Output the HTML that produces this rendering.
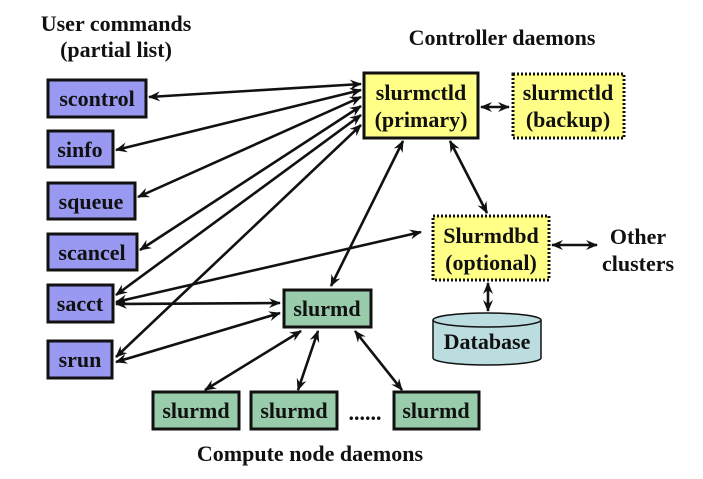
<!DOCTYPE html>
<html><head><meta charset="utf-8"><style>
html,body{margin:0;padding:0;background:#fff;}
svg text{font-family:"Liberation Serif",serif;font-weight:bold;fill:#111;}
</style></head><body>
<svg width="703" height="474" viewBox="0 0 703 474" xmlns="http://www.w3.org/2000/svg">
<defs>
<marker id="a" viewBox="0 0 12 10" refX="11" refY="5" markerWidth="12" markerHeight="10" orient="auto-start-reverse" markerUnits="userSpaceOnUse">
<path d="M0,0 L12,5 L0,10 L4,5 z" fill="#111"/>
</marker>
</defs>
<g font-size="22" text-anchor="middle">
<text x="116" y="31">User commands</text>
<text x="116" y="57">(partial list)</text>
<text x="502" y="45">Controller daemons</text>
<text x="310" y="461">Compute node daemons</text>
<text x="638" y="244">Other</text>
<text x="638" y="271">clusters</text>
</g>
<g stroke="#111" stroke-width="2.6" fill="none" marker-start="url(#a)" marker-end="url(#a)">
<line x1="149" y1="97" x2="361" y2="84"/>
<line x1="116" y1="150" x2="361" y2="90"/>
<line x1="138" y1="197" x2="361" y2="97"/>
<line x1="140" y1="250" x2="361" y2="106"/>
<line x1="116" y1="295" x2="361" y2="115"/>
<line x1="116" y1="357" x2="361" y2="125"/>
<line x1="116" y1="302" x2="421" y2="232"/>
<line x1="116" y1="304" x2="280" y2="303"/>
<line x1="116" y1="362" x2="280" y2="313"/>
<line x1="331" y1="286" x2="403" y2="141"/>
<line x1="481" y1="107" x2="509" y2="107"/>
<line x1="450" y1="141" x2="487" y2="213"/>
<line x1="552" y1="245" x2="597" y2="245"/>
<line x1="488" y1="283" x2="488" y2="311"/>
<line x1="301" y1="331" x2="205" y2="390"/>
<line x1="318" y1="331" x2="298" y2="390"/>
<line x1="355" y1="331" x2="402" y2="390"/>
</g>
<g stroke="#111" stroke-width="3" font-size="19" text-anchor="middle">
<rect x="48" y="80" width="98" height="37" fill="#9999f2"/>
<rect x="48" y="131" width="65" height="36" fill="#9999f2"/>
<rect x="48" y="183" width="87" height="36" fill="#9999f2"/>
<rect x="48" y="234" width="89" height="36" fill="#9999f2"/>
<rect x="48" y="285" width="65" height="37" fill="#9999f2"/>
<rect x="48" y="341" width="64" height="37" fill="#9999f2"/>
<rect x="364" y="73" width="114" height="65" fill="#ffff88"/>
<rect x="513" y="74" width="111" height="64" fill="#ffff88" stroke-dasharray="2,2"/>
<rect x="433" y="216" width="116" height="64" fill="#ffff88" stroke-dasharray="2,2"/>
<rect x="284" y="290" width="87" height="37" fill="#99ccaa"/>
<rect x="153" y="392" width="86" height="37" fill="#99ccaa"/>
<rect x="251" y="392" width="86" height="37" fill="#99ccaa"/>
<rect x="394" y="392" width="85" height="37" fill="#99ccaa"/>
</g>
<g stroke="#111" stroke-width="1.5" fill="#bbdde0">
<path d="M433,320 L433,358 A54,7 0 0 0 541,358 L541,320"/>
<ellipse cx="487" cy="320" rx="54" ry="7"/>
</g>
<g font-size="22" text-anchor="middle">
<text x="97" y="106">scontrol</text>
<text x="80" y="157">sinfo</text>
<text x="91" y="209">squeue</text>
<text x="92" y="260">scancel</text>
<text x="80" y="311">sacct</text>
<text x="80" y="367">srun</text>
<text x="421" y="100">slurmctld</text>
<text x="421" y="127">(primary)</text>
<text x="568" y="100">slurmctld</text>
<text x="568" y="127">(backup)</text>
<text x="491" y="243">Slurmdbd</text>
<text x="491" y="270">(optional)</text>
<text x="327" y="316">slurmd</text>
<text x="196" y="418">slurmd</text>
<text x="294" y="418">slurmd</text>
<text x="436" y="418">slurmd</text>
<text x="365" y="420">......</text>
<text x="487" y="349">Database</text>
</g>
</svg>
</body></html>
